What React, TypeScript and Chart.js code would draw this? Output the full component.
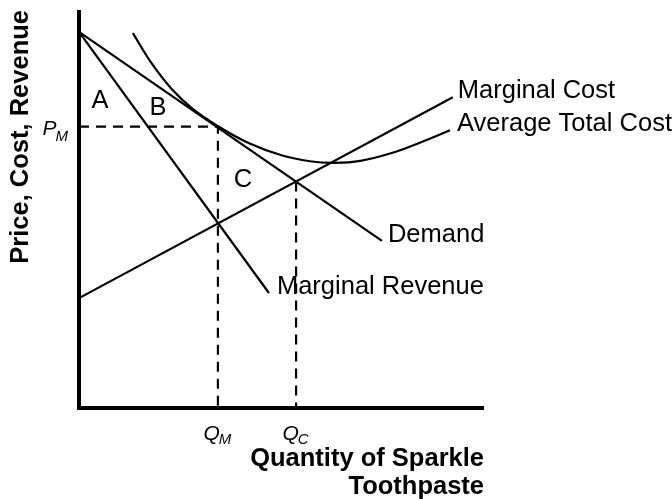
import React, { useEffect, useRef } from "react";
import { Chart, registerables } from "chart.js";

Chart.register(...registerables);

// Quantity (x) and price/cost (y) values, in arbitrary units 0..10
const demandQ = [0, 7.48];
const demandP = [9.45, 4.2];

const mrQ = [0, 4.69];
const mrP = [9.45, 2.89];

const mcQ = [0, 9.23];
const mcP = [2.76, 7.81];

const atcQ = [1.33, 1.8, 2.3, 2.8, 3.43, 4.2, 5.0, 5.7, 6.3, 6.95, 7.7, 8.4, 9.16];
const atcP = [9.42, 8.65, 8.0, 7.52, 7.08, 6.65, 6.35, 6.2, 6.16, 6.21, 6.4, 6.66, 6.98];

const QM = 3.43;
const QC = 5.36;
const PM = 7.07;
const PC = 5.69;

const curveLabels = ["Demand", "Marginal Revenue", "Marginal Cost", "Average Total Cost"];
const areaLabels = ["A", "B", "C"];
const xTitle = ["Quantity of Sparkle", "Toothpaste"];
const yTitle = "Price, Cost, Revenue";

const pts = (xs: number[], ys: number[]) => xs.map((x, i) => ({ x, y: ys[i] }));

const FONT = '"Liberation Sans", Arial, Helvetica, sans-serif';

const labelPlugin = {
  id: "econLabels",
  afterDatasetsDraw(chart: any) {
    const ctx = chart.ctx;
    const xs = chart.scales.x;
    const ys = chart.scales.y;
    const px = (v: number) => xs.getPixelForValue(v);
    const py = (v: number) => ys.getPixelForValue(v);
    ctx.save();
    ctx.fillStyle = "#000";

    // curve labels at line ends
    ctx.font = `25.5px ${FONT}`;
    ctx.textAlign = "left";
    ctx.textBaseline = "alphabetic";
    const ends = [
      [demandQ[demandQ.length - 1], demandP[demandP.length - 1]],
      [mrQ[mrQ.length - 1], mrP[mrP.length - 1]],
      [mcQ[mcQ.length - 1], mcP[mcP.length - 1]],
      [atcQ[atcQ.length - 1], atcP[atcP.length - 1]],
    ];
    const offsets = [6, 8, 5, 7];
    curveLabels.forEach((t, i) => {
      ctx.fillText(t, px(ends[i][0]) + offsets[i], py(ends[i][1]) + 1);
    });

    // area labels
    ctx.textAlign = "center";
    const areaPos = [
      [0.52, 7.54],
      [1.95, 7.36],
      [4.05, 5.55],
    ];
    areaLabels.forEach((t, i) => {
      ctx.fillText(t, px(areaPos[i][0]), py(areaPos[i][1]));
    });

    // P_M tick label
    const axisX = px(0);
    const axisY = py(0);
    ctx.textAlign = "left";
    ctx.font = `italic 21px ${FONT}`;
    const pW = ctx.measureText("P").width;
    ctx.font = `italic 15px ${FONT}`;
    const mW = ctx.measureText("M").width;
    const pmStart = axisX - 10 - pW - mW;
    ctx.font = `italic 21px ${FONT}`;
    ctx.fillText("P", pmStart, py(PM) + 8);
    ctx.font = `italic 15px ${FONT}`;
    ctx.fillText("M", pmStart + pW - 1, py(PM) + 14);

    // Q tick labels
    const qLabel = (q: number, sub: string) => {
      ctx.font = `italic 21px ${FONT}`;
      const qW = ctx.measureText("Q").width;
      ctx.font = `italic 15px ${FONT}`;
      const sW = ctx.measureText(sub).width;
      const start = px(q) - (qW + sW) / 2;
      ctx.font = `italic 21px ${FONT}`;
      ctx.fillText("Q", start, axisY + 32);
      ctx.font = `italic 15px ${FONT}`;
      ctx.fillText(sub, start + qW - 1, axisY + 36);
    };
    qLabel(QM, "M");
    qLabel(QC, "C");

    // x title
    ctx.font = `bold 25.5px ${FONT}`;
    ctx.textAlign = "right";
    ctx.fillText(xTitle[0], px(10), axisY + 58);
    ctx.fillText(xTitle[1], px(10), axisY + 86);

    // y title
    ctx.translate(28, py(10));
    ctx.rotate(-Math.PI / 2);
    ctx.font = `bold 25.5px ${FONT}`;
    ctx.textAlign = "right";
    ctx.fillText(yTitle, 0, 0);

    ctx.restore();
  },
};

export default function App() {
  const ref = useRef<HTMLCanvasElement | null>(null);
  useEffect(() => {
    if (!ref.current) return;
    const line = (data: any[], extra: any = {}) => ({
      data,
      showLine: true,
      borderColor: "#000",
      backgroundColor: "#000",
      borderWidth: 2.2,
      pointRadius: 0,
      fill: false,
      clip: false,
      ...extra,
    });
    const chart = new Chart(ref.current, {
      type: "scatter",
      data: {
        datasets: [
          line(pts([0, 0, 10], [10, 0, 0]), { borderWidth: 4, borderJoinStyle: "miter" }),
          line(pts([0, QM, QM], [PM, PM, 0]), { borderDash: [10, 7] }),
          line(pts([QC, QC], [PC, 0]), { borderDash: [10, 7] }),
          line(pts(demandQ, demandP)),
          line(pts(mrQ, mrP)),
          line(pts(mcQ, mcP)),
          line(pts(atcQ, atcP), { tension: 0.4 }),
        ],
      },
      options: {
        animation: false,
        responsive: false,
        events: [],
        layout: { padding: { left: 79, right: 188, top: 10, bottom: 91 } },
        plugins: { legend: { display: false }, tooltip: { enabled: false } },
        scales: {
          x: { type: "linear", display: false, min: 0, max: 10 },
          y: { type: "linear", display: false, min: 0, max: 10 },
        },
      },
      plugins: [labelPlugin],
    });
    return () => chart.destroy();
  }, []);
  return (
    <div style={{ position: "absolute", left: 0, top: 0, width: 672, height: 499, background: "#fff" }}>
      <canvas ref={ref} width={672} height={499} />
    </div>
  );
}
